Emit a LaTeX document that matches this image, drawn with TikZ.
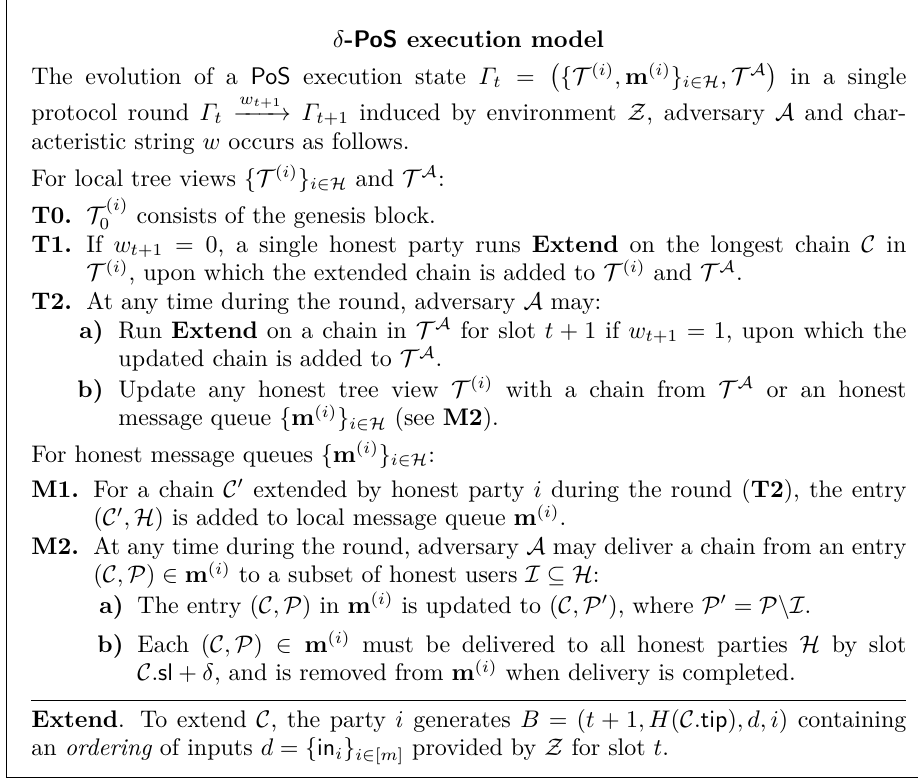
\documentclass[tikz,border=0pt]{standalone}
\usepackage{amsmath}
\usepackage{amsfonts}

\newcommand{\cT}{\mathcal{T}}
\newcommand{\cA}{\mathcal{A}}
\newcommand{\cH}{\mathcal{H}}
\newcommand{\cC}{\mathcal{C}}
\newcommand{\cP}{\mathcal{P}}
\newcommand{\cI}{\mathcal{I}}
\newcommand{\cZ}{\mathcal{Z}}
\newcommand{\mq}{\mathbf{m}^{(i)}}

\begin{document}
\begin{tikzpicture}[x = 0.4167pt, y = -0.4167pt,
	txt/.style = {anchor = base west, inner sep = 0pt, align = justify},
	lab/.style = {anchor = base west, inner sep = 0pt, font = \bfseries},
	sublab/.style = {anchor = base east, inner sep = 0pt, font = \bfseries}]
	\useasboundingbox (0,0) rectangle (918,779);
	\clip (0,0) rectangle (918,779);
	\draw (6,-20) rectangle (931,777);
	\node[anchor = base, inner sep = 0pt, font = \bfseries] (title) at (468.5,47) {$\delta$-\textsf{PoS} execution model};
	\node[txt, text width = 364.6pt] (intro) at (31,84) {The evolution of a \textsf{PoS} execution state $\varGamma_t = \big(\{\cT^{(i)}, \mq\}_{i\in\cH}, \cT^{\cA}\big)$ in a single\linebreak protocol round $\varGamma_t \xrightarrow{w_{t+1}} \varGamma_{t+1}$ induced by environment $\cZ$, adversary $\cA$ and char-\linebreak acteristic string $w$ occurs as follows.};
	\node[txt] (trees) at (31,186) {For local tree views $\{\cT^{(i)}\}_{i\in\cH}$ and $\cT^{\cA}$:};
	\node[lab] (t0l) at (31,223) {T0.};
	\node[txt, text width = 341.7pt] (t0) at (86,223) {$\cT_0^{(i)}$ consists of the genesis block.};
	\node[lab] (t1l) at (31,252) {T1.};
	\node[txt, text width = 341.7pt] (t1) at (86,252) {If $w_{t+1} = 0$, a single honest party runs \textbf{Extend} on the longest chain $\cC$ in\linebreak $\cT^{(i)}$, upon which the extended chain is added to $\cT^{(i)}$ and $\cT^{\cA}$.};
	\node[lab] (t2l) at (31,309) {T2.};
	\node[txt, text width = 341.7pt] (t2) at (86,309) {At any time during the round, adversary $\cA$ may:};
	\node[sublab] (t2al) at (104,338) {a)};
	\node[txt, text width = 328.4pt] (t2a) at (118,338) {Run \textbf{Extend} on a chain in $\cT^{\cA}$ for slot $t+1$ if $w_{t+1} = 1$, upon which the\linebreak updated chain is added to $\cT^{\cA}$.};
	\node[sublab] (t2bl) at (104,397) {b)};
	\node[txt, text width = 328.4pt] (t2b) at (118,397) {Update any honest tree view $\cT^{(i)}$ with a chain from $\cT^{\cA}$ or an honest\linebreak message queue $\{\mq\}_{i\in\cH}$ (see \textbf{M2}).};
	\node[txt] (queues) at (31,462) {For honest message queues $\{\mq\}_{i\in\cH}$:};
	\node[lab] (m1l) at (31,497) {M1.};
	\node[txt, text width = 338.8pt] (m1) at (93,497) {For a chain $\cC'$ extended by honest party $i$ during the round (\textbf{T2}), the entry\linebreak $(\cC', \cH)$ is added to local message queue $\mq$.};
	\node[lab] (m2l) at (31,554) {M2.};
	\node[txt, text width = 338.8pt] (m2) at (93,554) {At any time during the round, adversary $\cA$ may deliver a chain from an entry\linebreak $(\cC, \cP) \in \mq$ to a subset of honest users $\cI \subseteq \cH$:};
	\node[sublab] (m2al) at (124,613) {a)};
	\node[txt, text width = 320.4pt] (m2a) at (137,613) {The entry $(\cC, \cP)$ in $\mq$ is updated to $(\cC, \cP')$, where $\cP' = \cP\backslash\cI$.};
	\node[sublab] (m2bl) at (124,652) {b)};
	\node[txt, text width = 320.4pt] (m2b) at (137,652) {Each $(\cC, \cP) \in \mq$ must be delivered to all honest parties $\cH$ by slot\linebreak $\cC.\mathsf{sl} + \delta$, and is removed from $\mq$ when delivery is completed.};
	\draw (31,700) -- (906,700);
	\node[txt, text width = 364.6pt] (extend) at (31,727) {\textbf{Extend}. To extend $\cC$, the party $i$ generates $B = (t+1, H(\cC.\mathsf{tip}), d, i)$ containing\linebreak an \emph{ordering} of inputs $d = \{\mathsf{in}_i\}_{i\in[m]}$ provided by $\cZ$ for slot $t$.};
\end{tikzpicture}
\end{document}
